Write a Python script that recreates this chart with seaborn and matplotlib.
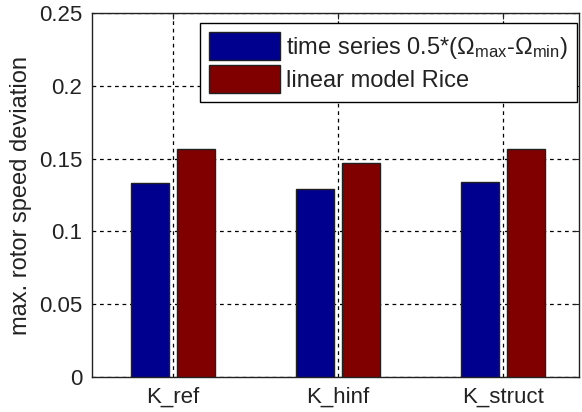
import matplotlib
matplotlib.use("Agg")
import matplotlib.pyplot as plt
import seaborn as sns
import pandas as pd

controllers = ["K_ref", "K_hinf", "K_struct"]
series_names = [r"time series 0.5*($\Omega_{\rm max}$-$\Omega_{\rm min}$)", "linear model Rice"]
time_series = [0.1334, 0.1292, 0.1340]
linear_rice = [0.1565, 0.1469, 0.1565]
yticks = [0, 0.05, 0.1, 0.15, 0.2, 0.25]
ytick_labels = ["0", "0.05", "0.1", "0.15", "0.2", "0.25"]
colors = ["#00008F", "#800000"]

df = pd.DataFrame({
    "controller": controllers * 2,
    "series": [series_names[0]] * 3 + [series_names[1]] * 3,
    "value": time_series + linear_rice,
})

sns.set_style("white")
plt.rcParams["font.family"] = ["Liberation Sans", "DejaVu Sans"]
plt.rcParams["mathtext.fontset"] = "custom"
plt.rcParams["mathtext.rm"] = "Liberation Sans"
plt.rcParams["mathtext.it"] = "Liberation Sans"

fig = plt.figure(figsize=(5.82, 4.12), dpi=100)
ax = fig.add_axes([0.158, 0.085, 0.837, 0.883])

sns.barplot(data=df, x="controller", y="value", hue="series", order=controllers,
            hue_order=series_names, palette=colors, saturation=1, width=0.56, gap=0.18,
            edgecolor="#202020", linewidth=1.0, ax=ax, zorder=3)

ax.set_xlim(-0.49, 2.46)
ax.set_ylim(0, 0.25)
ax.set_yticks(yticks)
ax.set_yticklabels(ytick_labels)
ax.set_xlabel("")
ax.set_ylabel("max. rotor speed deviation", fontsize=17, labelpad=5, color="#222222")
ax.tick_params(axis="both", direction="in", labelsize=16, top=True, right=True,
               length=4, color="#222222", labelcolor="#222222", pad=7)
ax.grid(True, color="black", linestyle=(0, (3, 3)), linewidth=0.9, zorder=0)
ax.set_axisbelow(True)
for s in ax.spines.values():
    s.set_color("#222222")
    s.set_linewidth(1.0)
    s.set_visible(True)

leg = ax.legend(loc="upper right", bbox_to_anchor=(0.995, 0.972), fontsize=17,
                frameon=True, fancybox=False, edgecolor="black", framealpha=1,
                handlelength=3.0, handleheight=1.43, labelspacing=0.16,
                handletextpad=0.25, borderpad=0.38, borderaxespad=0)
leg.get_frame().set_linewidth(1.0)
for t in leg.get_texts():
    t.set_color("#222222")

fig.savefig("out.png", dpi=100)
